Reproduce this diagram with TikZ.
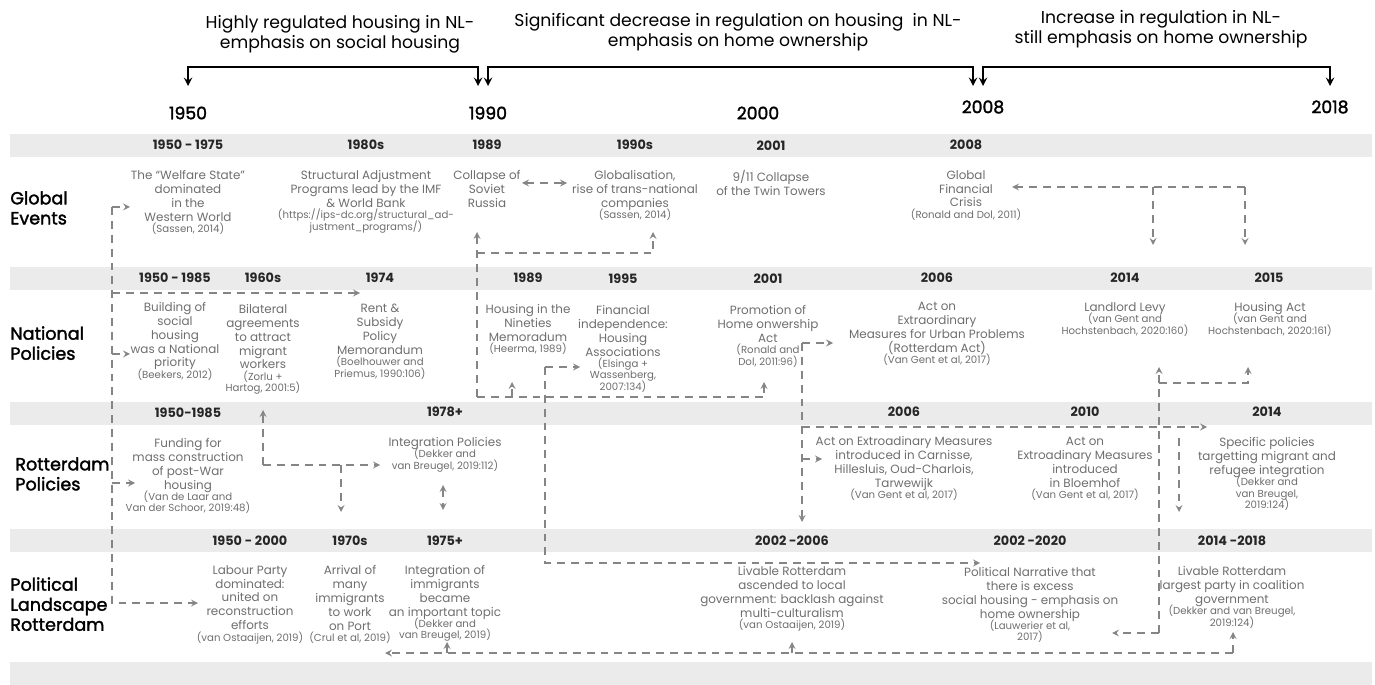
\documentclass[tikz,border=0pt]{standalone}
\usepackage{fontspec}
\setmainfont{Poppins}
\newfontfamily\popmid{Poppins}[FakeBold=1.8]
\usetikzlibrary{arrows}
\definecolor{bandgray}{HTML}{EBEBEB}
\definecolor{textgray}{HTML}{6E6E6E}
\definecolor{linkgray}{HTML}{858585}
\newcommand{\citeline}[1]{{\fontsize{5.8}{6.5}\selectfont #1}}
\tikzstyle{period} = [font=\fontsize{9.8}{11.6}\selectfont, align=center, text=black]
\tikzstyle{yearmark} = [font=\popmid\fontsize{9.8}{11}\selectfont, text=black]
\tikzstyle{bandyear} = [font=\bfseries\fontsize{7.3}{8.5}\selectfont, text=black!85]
\tikzstyle{rowlabel} = [font=\popmid\fontsize{10}{11.4}\selectfont, align=left, anchor=north west, inner sep=0pt]
\tikzstyle{event} = [font=\fontsize{6.8}{7.9}\selectfont, text=textgray, align=center, anchor=north, inner sep=0pt]
\tikzstyle{bracket} = [line width=1.1pt, <->, >=stealth]
\tikzstyle{linkarrow} = [draw=linkgray, line width=0.75pt, dash pattern=on 4.5pt off 3.4pt, ->, >=stealth]

\begin{document}
\begin{tikzpicture}[x=0.02cm, y=-0.02cm]
    \useasboundingbox (0,0) rectangle (1375,685);

    \fill [bandgray] (10,134) rectangle (1372,157);
    \fill [bandgray] (10,267) rectangle (1372,290);
    \fill [bandgray] (10,402) rectangle (1372,425);
    \fill [bandgray] (10,529) rectangle (1372,552);
    \fill [bandgray] (10,662) rectangle (1372,685);

    \node (titlesocial) [period] at (340,34) {Highly regulated housing in NL-\\emphasis on social housing};
    \node (titleowner) [period] at (738,32) {Significant decrease in regulation on housing\ \ in NL-\\emphasis on home ownership};
    \node (titlestill) [period] at (1161,29) {Increase in regulation in NL-\\still emphasis on home ownership};

    \node (y1950) [yearmark] at (188,113) {1950};
    \node (y1990) [yearmark] at (488,113) {1990};
    \node (y2000) [yearmark] at (758,113) {2000};
    \node (y2008) [yearmark] at (983,107) {2008};
    \node (y2018) [yearmark] at (1330,107) {2018};

    \coordinate (brsocialA) at (188,86);
    \coordinate (brsocialB) at (478,86);
    \coordinate (brownerA) at (488,86);
    \coordinate (brownerB) at (973,86);
    \coordinate (brstillA) at (983,86);
    \coordinate (brstillB) at (1330,86);
    \draw [bracket] (brsocialA) -- ++(0,-19) -| (brsocialB);
    \draw [bracket] (brownerA) -- ++(0,-19) -| (brownerB);
    \draw [bracket] (brstillA) -- ++(0,-19) -| (brstillB);

    \node (globalrow) [rowlabel] at (10,191) {Global\\Events};
    \node (nationalrow) [rowlabel] at (10,326) {National\\Policies};
    \node (rotterdamrow) [rowlabel] at (15,457) {Rotterdam\\Policies};
    \node (politicalrow) [rowlabel] at (10,577) {Political\\Landscape\\Rotterdam};

    \node (gl1950) [bandyear] at (188,145) {1950 - 1975};
    \node (gl1980) [bandyear] at (366,145) {1980s};
    \node (gl1989) [bandyear] at (487,145) {1989};
    \node (gl1990) [bandyear] at (635,145) {1990s};
    \node (gl2001) [bandyear] at (771,146) {2001};
    \node (gl2008) [bandyear] at (966,145) {2008};

    \node (na1950) [bandyear] at (175,278) {1950 - 1985};
    \node (na1960) [bandyear] at (263,278) {1960s};
    \node (na1974) [bandyear] at (380,278) {1974};
    \node (na1989) [bandyear] at (528,278) {1989};
    \node (na1995) [bandyear] at (623,279) {1995};
    \node (na2001) [bandyear] at (768,279) {2001};
    \node (na2006) [bandyear] at (937,278) {2006};
    \node (na2014) [bandyear] at (1125,278) {2014};
    \node (na2015) [bandyear] at (1269,278) {2015};

    \node (ro1950) [bandyear] at (188,413) {1950-1985};
    \node (ro1978) [bandyear] at (445,412) {1978+};
    \node (ro2006) [bandyear] at (904,412) {2006};
    \node (ro2010) [bandyear] at (1085,412) {2010};
    \node (ro2014) [bandyear] at (1267,412) {2014};

    \node (po1950) [bandyear] at (250,541) {1950 - 2000};
    \node (po1970) [bandyear] at (350,541) {1970s};
    \node (po1975) [bandyear] at (445,541) {1975+};
    \node (po2002) [bandyear] at (792,541) {2002 -2006};
    \node (po2020) [bandyear] at (1030,541) {2002 -2020};
    \node (po2014) [bandyear] at (1232,541) {2014 -2018};

    \node (welfare) [event] at (188,170) {The “Welfare State”\\dominated\\in the\\Western World\\[-1.4pt]\citeline{(Sassen, 2014)}};
    \node (structural) [event] at (366,170) {Structural Adjustment\\Programs lead by the IMF\\\& World Bank\\[-1.4pt]\citeline{(https://ips-dc.org/structural\_ad-}\\[-1.4pt]\citeline{justment\_programs/)}};
    \node (soviet) [event] at (487,170) {Collapse of\\Soviet\\Russia};
    \node (globalisation) [event] at (635,170) {Globalisation,\\rise of trans-national\\companies\\[-1.4pt]\citeline{(Sassen, 2014)}};
    \node (twintowers) [event] at (771,170) {9/11 Collapse\\of the Twin Towers};
    \node (crisis) [event] at (966,170) {Global\\Financial\\Crisis\\[-1.4pt]\citeline{(Ronald and Dol, 2011)}};

    \node (socialhousing) [event] at (175,302) {Building of\\social\\housing\\was a National\\priority\\[-1.4pt]\citeline{(Beekers, 2012)}};
    \node (bilateral) [event] at (263,304) {Bilateral\\agreements\\to attract\\migrant\\workers\\[-1.4pt]\citeline{(Zorlu +}\\[-1.4pt]\citeline{Hartog, 2001:5)}};
    \node (rentsubsidy) [event] at (380,304) {Rent \&\\Subsidy\\Policy\\Memorandum\\[-1.4pt]\citeline{(Boelhouwer and}\\[-1.4pt]\citeline{Priemus, 1990:106)}};
    \node (nineties) [event] at (528,304) {Housing in the\\Nineties\\Memoradum\\[-1.4pt]\citeline{(Heerma, 1989)}};
    \node (financial) [event] at (623,305) {Financial\\independence:\\Housing\\Associations\\[-1.4pt]\citeline{(Elsinga +}\\[-1.4pt]\citeline{Wassenberg,}\\[-1.4pt]\citeline{2007:134)}};
    \node (homeowner) [event] at (768,305) {Promotion of\\Home onwership\\Act\\[-1.4pt]\citeline{(Ronald and}\\[-1.4pt]\citeline{Dol, 2011:96)}};
    \node (rotterdamact) [event] at (937,302) {Act on\\Extraordinary\\Measures for Urban Problems\\(Rotterdam Act)\\[-1.4pt]\citeline{(Van Gent et al, 2017)}};
    \node (landlordlevy) [event] at (1125,302) {Landlord Levy\\[-1.4pt]\citeline{(van Gent and}\\[-1.4pt]\citeline{Hochstenbach, 2020:160)}};
    \node (housingact) [event] at (1270,302) {Housing Act\\[-1.4pt]\citeline{(van Gent and}\\[-1.4pt]\citeline{Hochstenbach, 2020:161)}};

    \node (funding) [event] at (188,438) {Funding for\\mass construction\\of post-War\\housing\\[-1.4pt]\citeline{(Van de Laar and}\\[-1.4pt]\citeline{Van der Schoor, 2019:48)}};
    \node (integration) [event] at (445,437) {Integration Policies\\[-1.4pt]\citeline{(Dekker and}\\[-1.4pt]\citeline{van Breugel, 2019:112)}};
    \node (carnisse) [event] at (904,436) {Act on Extroadinary Measures\\introduced in Carnisse,\\Hillesluis, Oud-Charlois,\\Tarwewijk\\[-1.4pt]\citeline{(Van Gent et al, 2017)}};
    \node (bloemhof) [event] at (1085,437) {Act on\\Extroadinary Measures\\introduced\\in Bloemhof\\[-1.4pt]\citeline{(Van Gent et al, 2017)}};
    \node (specific) [event] at (1267,437) {Specific policies\\targetting migrant and\\refugee integration\\[-1.4pt]\citeline{(Dekker and}\\[-1.4pt]\citeline{van Breugel,}\\[-1.4pt]\citeline{2019:124)}};

    \node (labour) [event] at (250,565) {Labour Party\\dominated:\\united on\\reconstruction\\efforts\\[-1.4pt]\citeline{(van Ostaaijen, 2019)}};
    \node (arrival) [event] at (350,565) {Arrival of\\many\\immigrants\\to work\\on Port\\[-1.4pt]\citeline{(Crul et al, 2019)}};
    \node (immigrants) [event] at (445,565) {Integration of\\immigrants\\became\\an important topic\\[-1.4pt]\citeline{(Dekker and}\\[-1.4pt]\citeline{van Breugel, 2019)}};
    \node (livable) [event] at (792,566) {Livable Rotterdam\\ascended to local\\government: backlash against\\multi-culturalism\\[-1.4pt]\citeline{(van Ostaaijen, 2019)}};
    \node (narrative) [event] at (1030,567) {Political Narrative that\\there is excess\\social housing - emphasis on\\home ownership\\[-1.4pt]\citeline{(Lauwerier et al,}\\[-1.4pt]\citeline{2017)}};
    \node (largestparty) [event] at (1232,566) {Livable Rotterdam\\largest party in coalition\\government\\[-1.4pt]\citeline{(Dekker and van Breugel,}\\[-1.4pt]\citeline{2019:124)}};

    % left trunk
    \coordinate (tktop) at (112,207);
    \coordinate (tkwelfare) at (130,207);
    \coordinate (tknational) at (112,293);
    \coordinate (tkrent) at (360,293);
    \coordinate (tksocial) at (112,354);
    \coordinate (tksocialend) at (130,354);
    \coordinate (tkfunding) at (112,483);
    \coordinate (tkfundingend) at (135,483);
    \coordinate (tkbottom) at (112,603);
    \coordinate (tklabour) at (198,603);
    \draw [linkarrow] (tktop) -- (tkwelfare);
    \draw [linkarrow] (tktop) -- (tkbottom) -- (tklabour);
    \draw [linkarrow] (tknational) -- (tkrent);
    \draw [linkarrow] (tksocial) -- (tksocialend);
    \draw [linkarrow] (tkfunding) -- (tkfundingend);

    \coordinate (bilateraljoin) at (263,465);
    \coordinate (bilateralend) at (263,410);
    \coordinate (integrationend) at (380,465);
    \coordinate (arrivaljoin) at (341,465);
    \coordinate (arrivalend) at (341,512);
    \coordinate (integrationup) at (443,485);
    \coordinate (integrationdown) at (443,510);
    \draw [linkarrow] (bilateraljoin) -- (bilateralend);
    \draw [linkarrow] (bilateraljoin) -- (integrationend);
    \draw [linkarrow] (arrivaljoin) -- (arrivalend);
    \draw [linkarrow, <->] (integrationup) -- (integrationdown);

    \coordinate (sovietbottom) at (477,397);
    \coordinate (soviettop) at (477,232);
    \coordinate (sovietjoin) at (477,253);
    \coordinate (globaljoin) at (653,253);
    \coordinate (globaltop) at (653,232);
    \coordinate (ninetiesjoin) at (512,397);
    \coordinate (ninetiesend) at (512,382);
    \coordinate (ownerjoin) at (764,397);
    \coordinate (ownerend) at (764,382);
    \coordinate (sovietright) at (522,183);
    \coordinate (globalleft) at (567,183);
    \draw [linkarrow] (sovietbottom) -- (soviettop);
    \draw [linkarrow] (sovietjoin) -- (globaljoin) -- (globaltop);
    \draw [linkarrow] (sovietbottom) -- (ownerjoin) -- (ownerend);
    \draw [linkarrow] (ninetiesjoin) -- (ninetiesend);
    \draw [linkarrow, <->] (sovietright) -- (globalleft);

    \coordinate (financialtop) at (545,367);
    \coordinate (financialend) at (580,367);
    \coordinate (financialbottom) at (545,563);
    \coordinate (narrativeend) at (980,563);
    \draw [linkarrow] (financialtop) -- (financialend);
    \draw [linkarrow] (financialtop) -- (financialbottom) -- (narrativeend);

    \coordinate (ownertop) at (802,343);
    \coordinate (actend) at (833,343);
    \coordinate (ownerbottom) at (802,522);
    \coordinate (ownermid) at (802,427);
    \coordinate (specificend) at (1207,427);
    \coordinate (carnissejoin) at (802,459);
    \coordinate (carnisseend) at (822,459);
    \coordinate (bloemhoftop) at (1179,438);
    \coordinate (bloemhofend) at (1179,512);
    \draw [linkarrow] (ownertop) -- (actend);
    \draw [linkarrow] (ownertop) -- (ownerbottom);
    \draw [linkarrow] (ownermid) -- (specificend);
    \draw [linkarrow] (carnissejoin) -- (carnisseend);
    \draw [linkarrow] (bloemhoftop) -- (bloemhofend);

    \coordinate (crisisright) at (1245,187);
    \coordinate (crisisend) at (1012,187);
    \coordinate (levyjoin) at (1153,187);
    \coordinate (levyend) at (1153,245);
    \coordinate (housingend) at (1245,245);
    \draw [linkarrow] (crisisright) -- (crisisend);
    \draw [linkarrow] (levyjoin) -- (levyend);
    \draw [linkarrow] (crisisright) -- (housingend);

    \coordinate (levybottom) at (1159,633);
    \coordinate (levytop) at (1159,367);
    \coordinate (levymid) at (1159,383);
    \coordinate (housingjoin) at (1248,383);
    \coordinate (housingtop) at (1248,367);
    \coordinate (narrativeleft) at (1112,633);
    \draw [linkarrow] (levybottom) -- (levytop);
    \draw [linkarrow] (levymid) -- (housingjoin) -- (housingtop);
    \draw [linkarrow] (levybottom) -- (narrativeleft);

    \coordinate (baseright) at (1233,653);
    \coordinate (baseup) at (1233,632);
    \coordinate (baseleft) at (385,653);
    \coordinate (livablejoin) at (792,653);
    \coordinate (livableend) at (792,642);
    \coordinate (immigrantsjoin) at (447,653);
    \coordinate (immigrantsend) at (447,642);
    \draw [linkarrow] (baseright) -- (baseleft);
    \draw [linkarrow] (baseright) -- (baseup);
    \draw [linkarrow] (livablejoin) -- (livableend);
    \draw [linkarrow] (immigrantsjoin) -- (immigrantsend);

\end{tikzpicture}
\end{document}
